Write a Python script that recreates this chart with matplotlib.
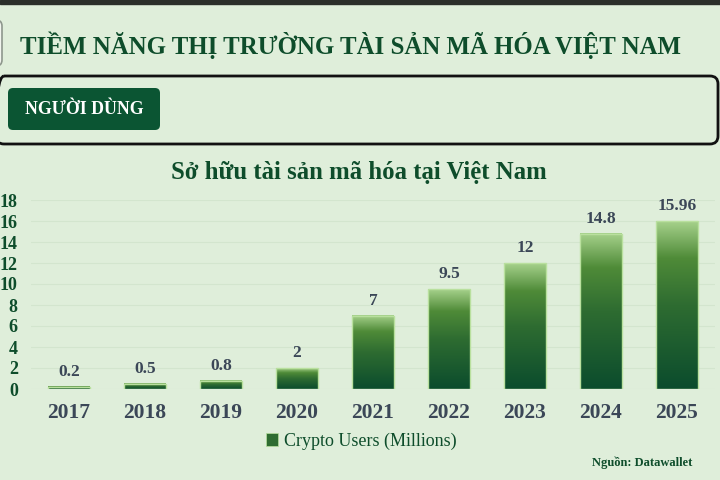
import numpy as np
import matplotlib.pyplot as plt
from matplotlib.colors import LinearSegmentedColormap
from matplotlib.patches import FancyBboxPatch, Rectangle

# Données
years = ["2017", "2018", "2019", "2020", "2021", "2022", "2023", "2024", "2025"]
users = [0.2, 0.5, 0.8, 2, 7, 9.5, 12, 14.8, 15.96]
value_labels = ["0.2", "0.5", "0.8", "2", "7", "9.5", "12", "14.8", "15.96"]
y_ticks = [0, 2, 4, 6, 8, 10, 12, 14, 16, 18]

header = "TIỀM NĂNG THỊ TRƯỜNG TÀI SẢN MÃ HÓA VIỆT NAM"
tab_label = "NGƯỜI DÙNG"
chart_title = "Sở hữu tài sản mã hóa tại Việt Nam"
legend_label = "Crypto Users (Millions)"
source = "Nguồn: Datawallet"

serif = ["Liberation Serif", "DejaVu Serif"]
bg = "#dfeeda"
dark_green = "#0e4d2b"
slate = "#3b4757"

grad = LinearSegmentedColormap.from_list(
    "bar", [(0.0, "#0b4c2d"), (0.5, "#2e6c31"), (0.78, "#4f8b38"), (1.0, "#a6d18b")])

fig = plt.figure(figsize=(7.2, 4.8), dpi=100, facecolor=bg)

# fond + cadres (coordonnées en pixels)
deco = fig.add_axes([0, 0, 1, 1], zorder=0)
deco.set_xlim(0, 720)
deco.set_ylim(480, 0)
deco.axis("off")
deco.add_patch(Rectangle((0, 0), 720, 4, color="#2b2f2a"))
deco.add_patch(FancyBboxPatch((-30, 20), 32, 46, boxstyle="round,pad=0,rounding_size=6",
                              fc="#f1f5ee", ec="#8e978d", lw=1.2))
deco.add_patch(FancyBboxPatch((-4, 76), 722, 68, boxstyle="round,pad=0,rounding_size=8",
                              fc="none", ec="#111111", lw=2))
deco.add_patch(FancyBboxPatch((8, 88), 152, 42, boxstyle="round,pad=0,rounding_size=5",
                              fc="#0b5533", ec="none"))
deco.text(351, 45, header, family=serif, weight="bold", fontsize=17.9, color=dark_green,
          ha="center", va="center")
deco.text(84, 110, tab_label, family=serif, weight="bold", fontsize=12.8, color="white",
          ha="center", va="center")
deco.text(359, 172, chart_title, family=serif, weight="bold", fontsize=17.8, color=dark_green,
          ha="center", va="center")
deco.text(692, 463, source, family=serif, weight="bold", fontsize=9, color=dark_green,
          ha="right", va="center")

# graphique
ax = fig.add_axes([31 / 720, 1 - 389 / 480, 684 / 720, 189 / 480], zorder=1)
ax.set_facecolor("none")
x = np.arange(len(years))
w = 0.54
gradient = np.linspace(0, 1, 256).reshape(-1, 1)
for xi, v, lab in zip(x, users, value_labels):
    ax.imshow(gradient, extent=[xi - w / 2, xi + w / 2, 0, v], origin="lower",
              aspect="auto", cmap=grad, zorder=2)
    ax.add_patch(Rectangle((xi - w / 2, 0), w, v, fc="none", ec="#b9e09e", lw=1, zorder=3))
    ax.annotate(lab, (xi, v), xytext=(0, 5), textcoords="offset points", ha="center",
                va="bottom", family=serif, weight="bold", fontsize=12.5, color=slate)

ax.set_xlim(-0.5, len(years) - 0.5)
ax.set_ylim(0, 18)
ax.set_yticks(y_ticks)
ax.set_xticks(x)
ax.set_xticklabels(years)
ax.grid(axis="y", color="#d3e5ce", lw=0.8, zorder=0)
ax.set_axisbelow(True)
for s in ax.spines.values():
    s.set_visible(False)
ax.tick_params(length=0)
ax.tick_params(axis="y", pad=9.5)
ax.tick_params(axis="x", pad=10)
for t in ax.get_yticklabels():
    t.set_family(serif)
    t.set_weight("bold")
    t.set_fontsize(13)
    t.set_color(dark_green)
for t in ax.get_xticklabels():
    t.set_family(serif)
    t.set_weight("bold")
    t.set_fontsize(15.5)
    t.set_color(slate)

handle = Rectangle((0, 0), 1, 1, fc="#2e6c31", ec="#b9e09e", lw=0.5)
leg = fig.legend([handle], [legend_label], loc="center", bbox_to_anchor=(361 / 720, 1 - 441 / 480),
                 frameon=False, handlelength=0.7, handleheight=0.7, handletextpad=0.3,
                 prop={"family": serif, "size": 13})
for t in leg.get_texts():
    t.set_color(dark_green)

fig.savefig("out.png", dpi=100, facecolor=bg)
